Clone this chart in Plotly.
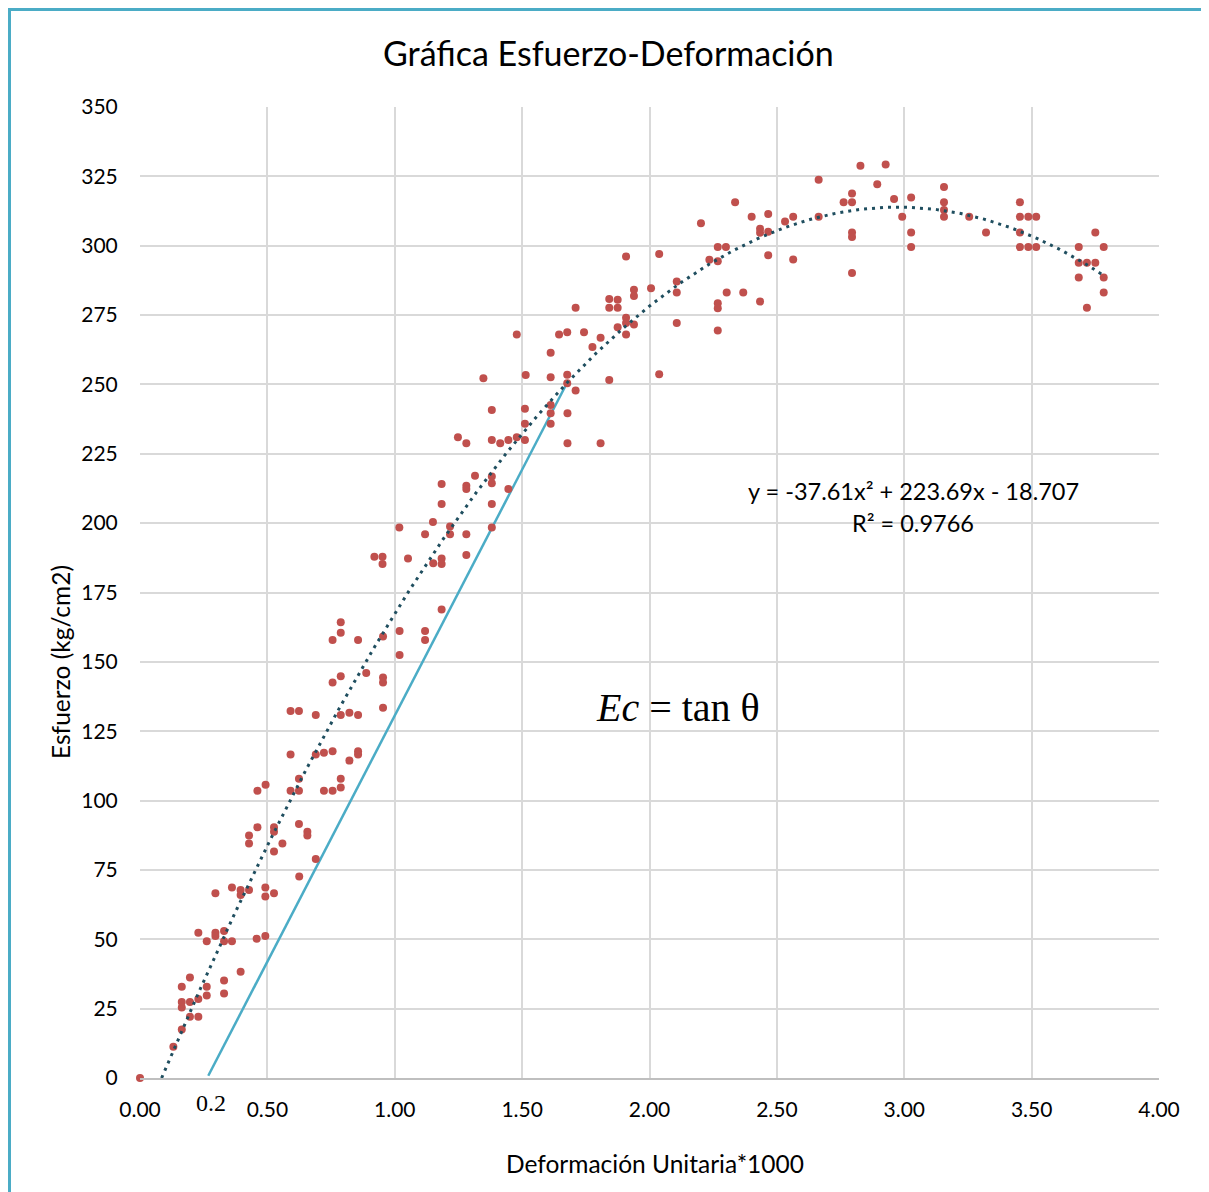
import numpy as np
import plotly.graph_objects as go

# ---- data ----
strain = [0.000, 0.131, 0.164, 0.196, 0.229, 0.164, 0.164, 0.196, 0.229, 0.164, 0.196, 0.262, 0.262,
          0.330, 0.330, 0.395, 0.229, 0.262, 0.296, 0.296, 0.330, 0.330, 0.361, 0.458, 0.492, 0.296,
          0.361, 0.395, 0.395, 0.428, 0.492, 0.492, 0.526, 0.526, 0.625, 0.690, 0.428, 0.428, 0.461,
          0.526, 0.526, 0.559, 0.624, 0.657, 0.657, 0.461, 0.493, 0.591, 0.624, 0.624, 0.722, 0.756,
          0.788, 0.788, 0.591, 0.690, 0.722, 0.756, 0.822, 0.856, 0.856, 0.591, 0.624, 0.690, 0.788,
          0.822, 0.856, 0.954, 0.756, 0.788, 0.888, 0.954, 0.954, 0.756, 0.788, 0.788, 0.856, 0.954,
          1.019, 1.019, 1.119, 1.119, 1.184, 1.018, 0.920, 0.952, 0.952, 1.052, 1.119, 1.150, 1.217,
          1.217, 1.151, 1.184, 1.184, 1.281, 1.281, 1.381, 1.184, 1.184, 1.281, 1.281, 1.315, 1.381,
          1.381, 1.381, 1.446, 1.248, 1.281, 1.381, 1.414, 1.446, 1.479, 1.511, 1.381, 1.511, 1.511,
          1.612, 1.612, 1.612, 1.678, 1.678, 1.808, 1.710, 1.677, 1.677, 1.612, 1.514, 1.348, 1.842,
          2.038, 1.612, 1.645, 1.677, 1.743, 1.479, 1.710, 1.776, 1.808, 1.842, 1.842, 1.875, 1.875,
          1.875, 1.908, 1.908, 1.908, 1.939, 1.939, 1.939, 2.006, 2.107, 2.107, 2.107, 2.268, 2.268,
          2.268, 2.303, 2.368, 2.434, 1.908, 2.038, 2.202, 2.235, 2.268, 2.268, 2.300, 2.336, 2.401,
          2.434, 2.434, 2.466, 2.466, 2.466, 2.532, 2.564, 2.564, 2.664, 2.664, 2.762, 2.795, 2.795,
          2.795, 2.795, 2.795, 2.828, 2.894, 2.927, 2.960, 2.992, 3.027, 3.027, 3.027, 3.156, 3.156,
          3.156, 3.156, 3.255, 3.321, 3.454, 3.454, 3.454, 3.454, 3.487, 3.487, 3.518, 3.518, 3.685,
          3.685, 3.685, 3.717, 3.717, 3.750, 3.750, 3.783, 3.783, 3.783]
stress = [0.0, 11.3, 17.5, 22.1, 22.1, 25.4, 27.4, 27.4, 28.5, 32.9, 36.2, 32.9, 29.7,
          35.1, 30.5, 38.3, 52.4, 49.3, 52.4, 51.2, 53.0, 49.3, 49.3, 50.2, 51.2, 66.6,
          68.7, 67.8, 66.0, 67.8, 68.7, 65.4, 66.6, 81.6, 72.6, 78.9, 87.4, 84.5, 90.4,
          90.4, 88.8, 84.5, 91.6, 88.8, 87.4, 103.5, 105.7, 103.5, 103.5, 107.9, 103.5, 103.5,
          104.7, 107.9, 116.6, 116.6, 117.2, 117.8, 114.4, 117.8, 116.6, 132.3, 132.3, 130.8, 130.8,
          131.7, 130.8, 133.5, 142.6, 144.8, 146.0, 144.4, 142.6, 157.9, 160.5, 164.3, 157.9, 159.1,
          161.1, 152.5, 161.1, 157.9, 168.9, 198.4, 187.9, 187.9, 185.3, 187.3, 196.0, 200.4, 198.8,
          196.0, 185.5, 187.3, 185.3, 196.0, 188.5, 198.4, 214.1, 206.9, 213.5, 212.3, 217.1, 216.8,
          214.4, 206.9, 212.3, 231.0, 228.8, 230.0, 228.8, 230.0, 231.0, 230.0, 240.8, 241.2, 235.8,
          242.6, 239.6, 235.8, 239.6, 228.8, 228.8, 247.8, 253.5, 250.4, 252.6, 253.4, 252.2, 251.6,
          253.7, 261.4, 268.0, 268.8, 268.8, 268.0, 277.6, 263.5, 266.8, 280.8, 277.6, 280.5, 277.6,
          270.6, 274.0, 272.1, 268.0, 271.6, 284.1, 281.9, 284.7, 287.1, 283.1, 272.1, 279.3, 277.5,
          269.4, 283.1, 283.1, 279.9, 296.1, 297.0, 308.1, 294.9, 299.5, 294.4, 299.5, 315.7, 310.4,
          306.1, 304.7, 311.4, 305.0, 296.6, 308.7, 310.4, 295.0, 323.8, 310.4, 315.7, 318.8, 315.7,
          304.8, 303.1, 290.2, 328.8, 322.2, 329.3, 316.8, 310.4, 317.4, 304.8, 299.5, 321.2, 315.7,
          312.9, 310.4, 310.4, 304.8, 315.7, 310.4, 304.8, 299.5, 310.4, 299.5, 310.4, 299.5, 299.5,
          293.9, 288.5, 293.9, 277.6, 304.8, 293.9, 299.5, 288.5, 283.1]

# trendline coefficients shown on the chart (a*x^2 + b*x + c)
trend_coef = [-37.61, 223.69, -18.707]
trend_x_end = 3.783

# tangent (Ec) line endpoints
tangent_x = [0.268, 1.677]
tangent_y = [0.8, 250.7]

x_ticks = [0, 0.5, 1.0, 1.5, 2.0, 2.5, 3.0, 3.5, 4.0]
x_tick_text = ["0.00", "0.50", "1.00", "1.50", "2.00", "2.50", "3.00", "3.50", "4.00"]
y_ticks = [0, 25, 50, 75, 100, 125, 150, 175, 200, 225, 250, 275, 300, 325, 350]

# ---- derived trendline ----
a, b, c = trend_coef
x0 = max(np.roots([a, b, c]).real.min(), 0)
tx = np.linspace(x0, trend_x_end, 300)
ty = a * tx**2 + b * tx + c

FONT = "Lato"

# screen-pixel helpers (plot area on screen: x 140..1159, y 107..1078)
def px(x):
    return (x - 140) / 1019

def py(y):
    return (1078 - y) / 971

fig = go.Figure()
fig.add_trace(go.Scatter(x=tangent_x, y=tangent_y, mode="lines",
                         line=dict(color="#4BACC6", width=2.5), hoverinfo="skip",
                         showlegend=False))
fig.add_trace(go.Scatter(x=strain, y=stress, mode="markers",
                         marker=dict(color="#C0504D", size=8), cliponaxis=False,
                         showlegend=False))
fig.add_trace(go.Scatter(x=tx, y=ty, mode="lines",
                         line=dict(color="#1F4E5F", width=3, dash="3px,5px"),
                         showlegend=False))

fig.update_layout(
    width=1209, height=1192,
    margin=dict(l=132, r=58, t=99, b=122),
    paper_bgcolor="white", plot_bgcolor="white",
    font=dict(family=FONT, size=21, color="#000000"),
    xaxis=dict(range=[0, 4], tickvals=x_ticks, ticktext=x_tick_text,
               showgrid=True, gridcolor="#D9D9D9", gridwidth=1.5, zeroline=False,
               showline=True, linecolor="#BFBFBF", linewidth=1.5,
               ticks="outside", ticklen=12, tickcolor="rgba(0,0,0,0)",
               tickfont=dict(size=21, family=FONT)),
    yaxis=dict(range=[0, 350], tickvals=y_ticks,
               showgrid=True, gridcolor="#D9D9D9", gridwidth=1.5, zeroline=False,
               showline=False,
               ticks="outside", ticklen=17, tickcolor="rgba(0,0,0,0)",
               tickfont=dict(size=21, family=FONT)),
    shapes=[dict(type="rect", xref="paper", yref="paper",
                 x0=px(8), x1=px(1207),
                 y0=py(1260), y1=py(8),
                 line=dict(color="#4BACC6", width=6), layer="below")],
    annotations=[
        dict(text="Gráfica Esfuerzo-Deformación", xref="paper", yref="paper",
             x=px(608), y=py(52), showarrow=False,
             font=dict(size=34, family=FONT), xanchor="center", yanchor="middle"),
        dict(text="Deformación Unitaria*1000", xref="paper", yref="paper",
             x=px(655), y=py(1163), showarrow=False,
             font=dict(size=24.5, family=FONT), xanchor="center", yanchor="middle"),
        dict(text="Esfuerzo (kg/cm2)", xref="paper", yref="paper",
             x=px(60), y=py(662), showarrow=False, textangle=-90,
             font=dict(size=24.5, family=FONT), xanchor="center", yanchor="middle"),
        dict(text="y = -37.61x² + 223.69x - 18.707", xref="paper", yref="paper",
             x=px(913), y=py(491), showarrow=False,
             font=dict(size=23.5, family=FONT), xanchor="center", yanchor="middle"),
        dict(text="R² = 0.9766", xref="paper", yref="paper",
             x=px(913), y=py(523), showarrow=False,
             font=dict(size=23.5, family=FONT), xanchor="center", yanchor="middle"),
        dict(text="<i>Ec</i> = tan θ", xref="paper", yref="paper",
             x=px(678), y=py(707), showarrow=False,
             font=dict(size=40, family="Liberation Serif"), xanchor="center", yanchor="middle"),
        dict(text="0.2", xref="paper", yref="paper",
             x=px(211), y=py(1103), showarrow=False,
             font=dict(size=24, family="Liberation Serif"), xanchor="center", yanchor="middle"),
    ],
)

fig.write_html("out.html")
